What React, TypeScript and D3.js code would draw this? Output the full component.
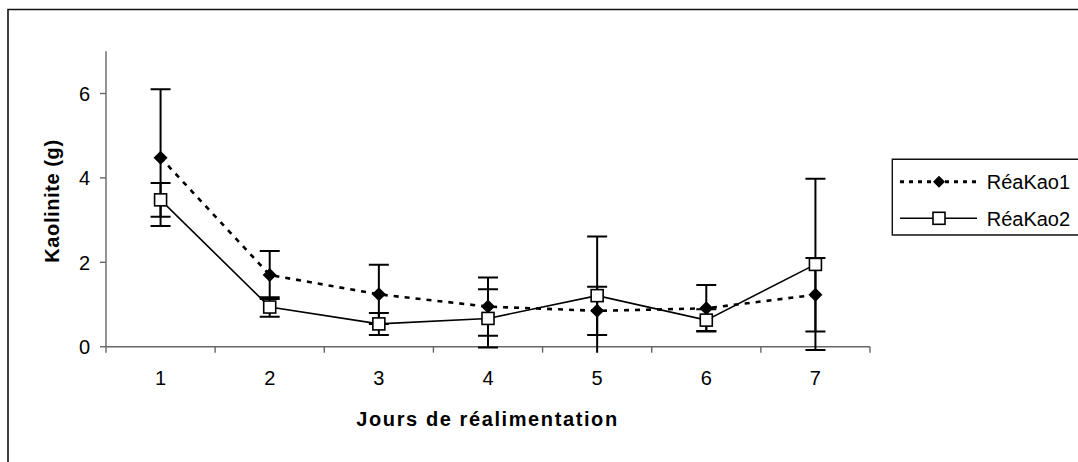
import React from "react";
import * as d3 from "d3";

// Days of refeeding
const days = [1, 2, 3, 4, 5, 6, 7];
// Kaolinite intake (g), mean and standard deviation
const reaKao1 = [4.48, 1.70, 1.24, 0.95, 0.85, 0.91, 1.23];
const reaKao1Sd = [1.62, 0.57, 0.70, 0.69, 0.57, 0.55, 0.87];
const reaKao2 = [3.48, 0.94, 0.54, 0.67, 1.21, 0.63, 1.95];
const reaKao2Sd = [0.40, 0.23, 0.26, 0.69, 1.40, 0.26, 2.03];
const yTicks = [0, 2, 4, 6];
const seriesNames = ["RéaKao1", "RéaKao2"];

const W = 1078;
const H = 462;
const FONT = "'Liberation Sans', Arial, sans-serif";

export default function App() {
  const x = d3.scaleLinear().domain([0.5, 7.5]).range([106, 870]);
  const y = d3.scaleLinear().domain([0, 7]).range([346.7, 51.3]);
  const boundaries = d3.range(0.5, 8, 1);

  const line = d3
    .line<number>()
    .x((_, i) => x(days[i]))
    .y((v) => y(v));

  const diamond = (cx: number, cy: number, r = 7) =>
    `M${cx},${cy - r}L${cx + r},${cy}L${cx},${cy + r}L${cx - r},${cy}Z`;

  const errorBars = (vals: number[], sd: number[], key: string) =>
    vals.map((v, i) => {
      const cx = x(days[i]);
      const top = y(v + sd[i]);
      const bot = y(v - sd[i]);
      return (
        <g key={key + i} stroke="#000" strokeWidth={2}>
          <line x1={cx} x2={cx} y1={top} y2={bot} />
          <line x1={cx - 10} x2={cx + 10} y1={top} y2={top} />
          <line x1={cx - 10} x2={cx + 10} y1={bot} y2={bot} />
        </g>
      );
    });

  return (
    <div style={{ position: "fixed", left: 0, top: 0, width: W, height: H, background: "#fff", overflow: "hidden" }}>
      <svg width={W} height={H} style={{ display: "block" }} fontFamily={FONT}>
        <defs>
          <clipPath id="plotClip">
            <rect x={x(0.5) - 20} y={y(7) - 20} width={x(7.5) - x(0.5) + 40} height={y(0) + 6 - y(7) + 20} />
          </clipPath>
        </defs>
        {/* chart frame: left and top edges inside the view */}
        <path d={`M8,${H}V9.5H${W}`} fill="none" stroke="#111" strokeWidth={1.6} />

        {/* y axis */}
        <line x1={x(0.5)} x2={x(0.5)} y1={y(7)} y2={y(0)} stroke="#666" strokeWidth={1.4} />
        {yTicks.map((t) => (
          <g key={"yt" + t}>
            <line x1={x(0.5) - 6} x2={x(0.5)} y1={y(t)} y2={y(t)} stroke="#666" strokeWidth={1.4} />
            <text x={90} y={y(t)} dy="0.36em" textAnchor="end" fontSize={20} fill="#000">
              {t}
            </text>
          </g>
        ))}

        {/* x axis */}
        <line x1={x(0.5)} x2={x(7.5)} y1={y(0)} y2={y(0)} stroke="#666" strokeWidth={1.4} />
        {boundaries.map((b) => (
          <line key={"xb" + b} x1={x(b)} x2={x(b)} y1={y(0)} y2={y(0) + 6} stroke="#666" strokeWidth={1.4} />
        ))}
        {days.map((d) => (
          <text key={"xl" + d} x={x(d)} y={385} textAnchor="middle" fontSize={20} fill="#000">
            {d}
          </text>
        ))}

        {/* axis titles */}
        <text x={487.5} y={426} textAnchor="middle" fontSize={20} fontWeight="bold" letterSpacing={1.6} fill="#000">
          Jours de réalimentation
        </text>
        <text
          transform={`translate(59,201) rotate(-90)`}
          textAnchor="middle"
          fontSize={20}
          fontWeight="bold"
          letterSpacing={0.6}
          fill="#000"
        >
          Kaolinite (g)
        </text>

        {/* series */}
        <g clipPath="url(#plotClip)">
          {errorBars(reaKao1, reaKao1Sd, "e1")}
          {errorBars(reaKao2, reaKao2Sd, "e2")}
        </g>
        <path d={line(reaKao1) || ""} fill="none" stroke="#000" strokeWidth={2.6} strokeDasharray="5,6" />
        <path d={line(reaKao2) || ""} fill="none" stroke="#000" strokeWidth={1.6} />
        {reaKao1.map((v, i) => (
          <path key={"m1" + i} d={diamond(x(days[i]), y(v))} fill="#000" />
        ))}
        {reaKao2.map((v, i) => (
          <rect
            key={"m2" + i}
            x={x(days[i]) - 6}
            y={y(v) - 6}
            width={12}
            height={12}
            fill="#fff"
            stroke="#000"
            strokeWidth={1.6}
          />
        ))}

        {/* legend: box runs past the right edge of the view */}
        <path d={`M${W + 10},159.3H892.3V235H${W + 10}`} fill="#fff" stroke="#111" strokeWidth={1.4} />
        <line x1={900} x2={977} y1={181.7} y2={181.7} stroke="#000" strokeWidth={3} strokeDasharray="4,5" />
        <path d={diamond(939, 181.7, 6)} fill="#000" />
        <text x={986.7} y={181.7} dy="0.36em" fontSize={20} fill="#000">
          {seriesNames[0]}
        </text>
        <line x1={900} x2={977} y1={218.3} y2={218.3} stroke="#000" strokeWidth={1.6} />
        <rect x={933} y={212.3} width={12} height={12} fill="#fff" stroke="#000" strokeWidth={1.6} />
        <text x={986.7} y={218.3} dy="0.36em" fontSize={20} fill="#000">
          {seriesNames[1]}
        </text>
      </svg>
    </div>
  );
}
